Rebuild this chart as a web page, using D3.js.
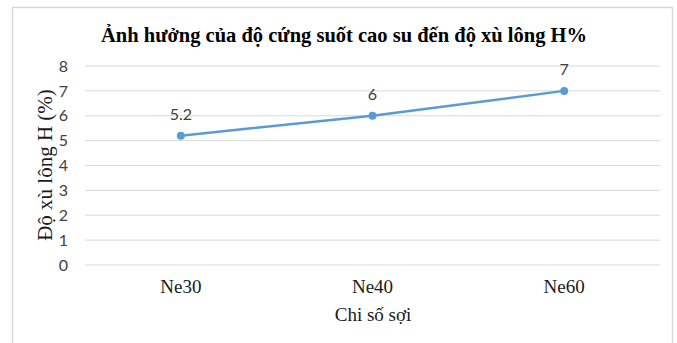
<!DOCTYPE html>
<html>
<head>
<meta charset="utf-8">
<script src="https://cdn.jsdelivr.net/npm/d3@7"></script>
<style>
  html, body { margin: 0; padding: 0; background: #fff; }
  svg { display: block; }
</style>
</head>
<body>
<div id="chart"></div>
<script>
// Yarn count categories and hairiness values
const categories = ["Ne30", "Ne40", "Ne60"];
const hairiness = [5.2, 6, 7];
const yTicks = [0, 1, 2, 3, 4, 5, 6, 7, 8];

const chartTitle = "Ảnh hưởng của độ cứng suốt cao su đến độ xù lông H%";
const xTitle = "Chi số sợi";
const yTitle = "Độ xù lông H (%)";

const W = 677, H = 343;
const plot = { left: 85, right: 660, top: 66, bottom: 265 };
const serif = "'Liberation Serif', 'Times New Roman', serif";
const sans = "Lato, 'Open Sans', sans-serif";

const svg = d3.select("#chart").append("svg")
  .attr("width", W).attr("height", H);

// Chart frame
svg.append("rect")
  .attr("x", 12.5).attr("y", 7.5)
  .attr("width", 660).attr("height", 345)
  .attr("fill", "#fff")
  .attr("stroke", "#d9d9d9").attr("stroke-width", 1.5);

const x = d3.scaleBand().domain(categories)
  .range([plot.left, plot.right]).paddingInner(0).paddingOuter(0);
const y = d3.scaleLinear().domain([0, 8]).range([plot.bottom, plot.top]);

// Horizontal gridlines
svg.append("g").selectAll("line").data(yTicks).join("line")
  .attr("x1", plot.left).attr("x2", plot.right)
  .attr("y1", d => y(d)).attr("y2", d => y(d))
  .attr("stroke", "#d9d9d9").attr("stroke-width", 1);

// Y axis tick labels
const yAxis = d3.axisLeft(y).tickValues(yTicks).tickSize(0).tickPadding(0);
const gy = svg.append("g").attr("transform", `translate(${plot.left - 17},0)`).call(yAxis);
gy.select(".domain").remove();
gy.selectAll("text")
  .attr("font-family", sans)
  .attr("font-size", 16).attr("fill", "#404040");

// X axis category labels
const xAxis = d3.axisBottom(x).tickSize(0).tickPadding(0);
const gx = svg.append("g").attr("transform", `translate(0,${plot.bottom + 14})`).call(xAxis);
gx.select(".domain").remove();
gx.selectAll("text")
  .attr("font-family", serif)
  .attr("font-size", 19).attr("fill", "#1a1a1a");

// Line series
const cx = d => x(d) + x.bandwidth() / 2;
const line = d3.line().x((d, i) => cx(categories[i])).y(d => y(d));
svg.append("path").datum(hairiness)
  .attr("d", line)
  .attr("fill", "none")
  .attr("stroke", "#5b9bd5").attr("stroke-width", 2.5)
  .attr("stroke-linecap", "round");

svg.append("g").selectAll("circle").data(hairiness).join("circle")
  .attr("cx", (d, i) => cx(categories[i]))
  .attr("cy", d => y(d))
  .attr("r", 4)
  .attr("fill", "#5b9bd5");

// Data labels
svg.append("g").selectAll("text").data(hairiness).join("text")
  .attr("x", (d, i) => cx(categories[i]))
  .attr("y", d => y(d) - 16)
  .attr("text-anchor", "middle")
  .attr("font-family", sans)
  .attr("font-size", 16).attr("fill", "#404040")
  .text(d => d);

// Chart title
svg.append("text")
  .attr("x", 344).attr("y", 42)
  .attr("text-anchor", "middle")
  .attr("font-family", serif)
  .attr("font-weight", "bold").attr("font-size", 20.5).attr("fill", "#000")
  .text(chartTitle);

// Axis titles
svg.append("text")
  .attr("x", 373).attr("y", 321)
  .attr("text-anchor", "middle")
  .attr("font-family", serif)
  .attr("font-size", 19).attr("fill", "#1a1a1a")
  .text(xTitle);

svg.append("text")
  .attr("transform", "translate(52,165) rotate(-90)")
  .attr("text-anchor", "middle")
  .attr("font-family", serif)
  .attr("font-size", 21).attr("fill", "#1a1a1a")
  .text(yTitle);
</script>
</body>
</html>
